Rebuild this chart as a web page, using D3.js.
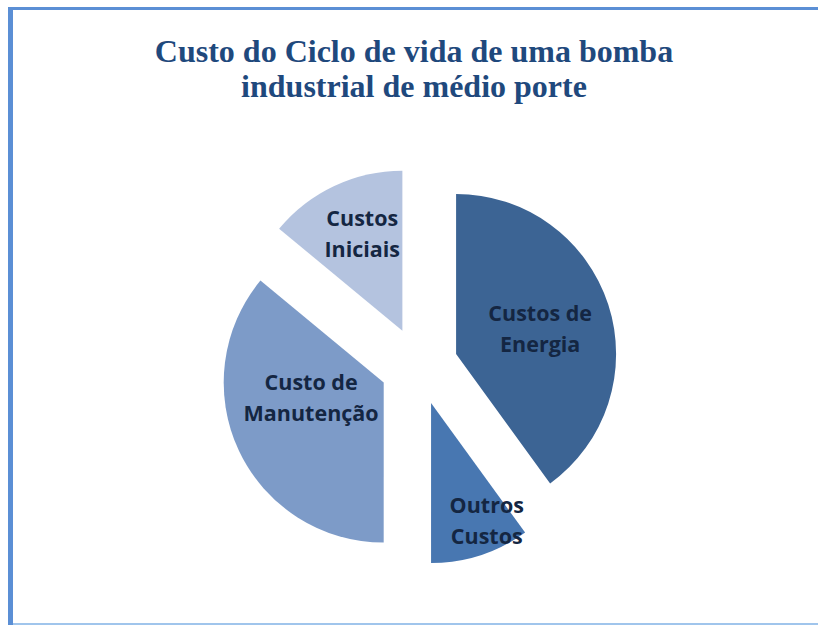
<!DOCTYPE html>
<html>
<head>
  <meta charset="UTF-8">
  <style>
    body { margin: 0; background: #fff; }
    .title {
      font-family: 'Liberation Serif', 'Times New Roman', serif;
      font-weight: bold;
      font-size: 32px;
      fill: #1f497d;
      text-anchor: middle;
    }
    .slice-label {
      font-family: 'Open Sans', sans-serif;
      font-weight: bold;
      font-size: 21.5px;
      fill: #142642;
      text-anchor: middle;
    }
  </style>
</head>
<body>
  <script src="https://d3js.org/d3.v7.min.js"></script>
  <svg id="chart" width="818" height="625"></svg>
  <script>
    // data (percent of life cycle cost)
    let categories = ["Custos de Energia", "Outros Custos", "Custo de Manutenção", "Custos Iniciais"];
    let values = [40, 10, 36, 14];
    let labelLines = [["Custos de", "Energia"], ["Outros", "Custos"], ["Custo de", "Manutenção"], ["Custos", "Iniciais"]];
    let titleLines = ["Custo do Ciclo de vida de uma bomba", "industrial de médio porte"];

    let colors = ["#3c6494", "#4877b1", "#7d9bc8", "#b4c3df"];

    // label placement relative to each exploded slice: [angle shift in degrees, distance]
    let labelLayout = [[6, 86], [-6, 137], [8, 76], [1, 98]];

    let svg = d3.select("#chart");

    // frame
    svg.append("rect").attr("x", 8).attr("y", 7).attr("width", 810).attr("height", 3).attr("fill", "#5b8fd5");
    svg.append("rect").attr("x", 8).attr("y", 7).attr("width", 5).attr("height", 618).attr("fill", "#5b8fd5");
    svg.append("rect").attr("x", 13).attr("y", 623).attr("width", 805).attr("height", 2).attr("fill", "#a0c5ec");

    // title
    let title = svg.append("text").attr("class", "title");
    title.selectAll("tspan")
      .data(titleLines)
      .enter()
      .append("tspan")
        .attr("x", 414)
        .attr("y", function(d, i) { return 62 + i * 35; })
        .text(function(d) { return d; });

    let cx = 419, cy = 366, radius = 160, explode = 39;

    let pie = d3.pie().sort(null).value(function(d) { return d; });
    let arcs = pie(values);
    let arc = d3.arc().innerRadius(0).outerRadius(radius);

    let g = svg.append("g").attr("transform", "translate(" + cx + "," + cy + ")");

    function offset(a, dist) {
      return [Math.sin(a) * dist, -Math.cos(a) * dist];
    }

    let slices = g.selectAll("g.slice")
      .data(arcs)
      .enter()
      .append("g")
        .attr("class", "slice")
        .attr("transform", function(d) {
          let mid = (d.startAngle + d.endAngle) / 2;
          let o = offset(mid, explode);
          return "translate(" + o[0] + "," + o[1] + ")";
        });

    slices.append("path")
      .attr("d", arc)
      .attr("fill", function(d, i) { return colors[i]; });

    slices.each(function(d, i) {
      let mid = (d.startAngle + d.endAngle) / 2 + labelLayout[i][0] * Math.PI / 180;
      let p = offset(mid, labelLayout[i][1]);
      let t = d3.select(this).append("text").attr("class", "slice-label");
      t.selectAll("tspan")
        .data(labelLines[i])
        .enter()
        .append("tspan")
          .attr("x", p[0])
          .attr("y", function(l, j) { return p[1] - 15.5 + j * 31; })
          .text(function(l) { return l; });
    });
  </script>
</body>
</html>
